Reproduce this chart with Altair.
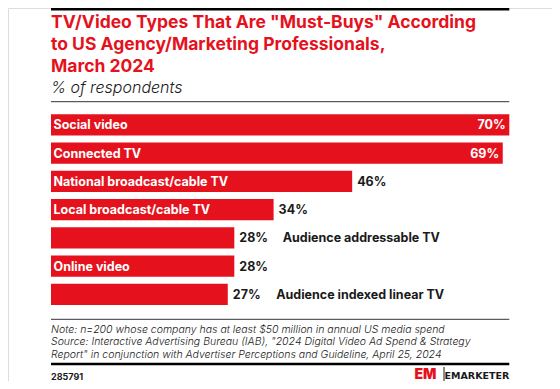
import altair as alt
import pandas as pd

# ---- data ----
categories = [
    "Social video",
    "Connected TV",
    "National broadcast/cable TV",
    "Local broadcast/cable TV",
    "Audience addressable TV",
    "Online video",
    "Audience indexed linear TV",
]
values = [70, 69, 46, 34, 28, 28, 27]
name_in_bar = [True, True, True, True, False, True, False]

title_lines = [
    'TV/Video Types That Are "Must-Buys" According',
    "to US Agency/Marketing Professionals,",
    "March 2024",
]
subtitle = "% of respondents"
note_lines = [
    "Note: n=200 whose company has at least $50 million in annual US media spend",
    'Source: Interactive Advertising Bureau (IAB), "2024 Digital Video Ad Spend & Strategy',
    'Report" in conjunction with Advertiser Perceptions and Guideline, April 25, 2024',
]
chart_id = "285791"
logo_mark = "EM"
brand = "EMARKETER"

# ---- styling ----
RED = "#e5121d"
INK = "#1a1a1a"
FONT = "Inter"
W, H = 544, 373
LEFT, RIGHT = 43, 501.3

df = pd.DataFrame({"category": categories, "value": values, "inside": name_in_bar})

xs = alt.Scale(domain=[0, 70], range=[LEFT, RIGHT], zero=True, nice=False)
ys = alt.Scale(domain=categories, range=[106.3, 297], paddingInner=0.2455, paddingOuter=0)

X = alt.X("value:Q", scale=xs, axis=None)
Y = alt.Y("category:N", sort=categories, scale=ys, axis=None)

base = alt.Chart(df)

bars = base.mark_bar(color=RED, cornerRadius=0).encode(x=X, y=Y)

names_in = base.transform_filter("datum.inside").transform_calculate(zero="0").mark_text(
    align="left", baseline="middle", dx=2.5, dy=0.5, color="white",
    font=FONT, fontSize=12.5, fontWeight="bold"
).encode(x=alt.X("zero:Q", scale=xs, axis=None), y=Y, text="category:N")

names_out = base.transform_filter("!datum.inside").mark_text(
    align="left", baseline="middle", dx=48.4, dy=0.5, color=INK,
    font=FONT, fontSize=12.5, fontWeight="bold"
).encode(x=X, y=Y, text="category:N")

vals_in = base.transform_filter("datum.value >= 60").transform_calculate(
    lab="datum.value + '%'"
).mark_text(
    align="right", baseline="middle", dx=-3.6, dy=0.5, color="white",
    font=FONT, fontSize=12.5, fontWeight="bold"
).encode(x=X, y=Y, text="lab:N")

vals_out = base.transform_filter("datum.value < 60").transform_calculate(
    lab="datum.value + '%'"
).mark_text(
    align="left", baseline="middle", dx=5, dy=0.5, color=INK,
    font=FONT, fontSize=12.5, fontWeight="bold"
).encode(x=X, y=Y, text="lab:N")


def one_text(txt, x, y, **kw):
    return alt.Chart(pd.DataFrame({"t": [txt]})).mark_text(**kw).encode(
        x=alt.value(x), y=alt.value(y), text="t:N"
    )


def hrule(y, width, color):
    return alt.Chart(pd.DataFrame({"a": [0]})).mark_rule(
        color=color, strokeWidth=width
    ).encode(x=alt.value(LEFT), x2=alt.value(RIGHT), y=alt.value(y))


title = one_text("\n".join(title_lines), LEFT, 20, align="left", baseline="alphabetic",
                 lineBreak="\n", lineHeight=22, font=FONT, fontSize=17.5,
                 fontWeight="bold", color=RED)
sub = one_text(subtitle, LEFT, 85.3, align="left", baseline="alphabetic", font=FONT,
               fontSize=16, fontStyle="italic", fontWeight=300, color=INK)
note = one_text("\n".join(note_lines), LEFT, 324.7, align="left", baseline="alphabetic",
                lineBreak="\n", lineHeight=12.5, font=FONT, fontSize=10.5,
                fontStyle="italic", fontWeight=300, color=INK)
cid = one_text(chart_id, LEFT, 371.5, align="left", baseline="alphabetic", font=FONT,
               fontSize=9, fontWeight="bold", color=INK)
em = one_text(logo_mark, 406.5, 370.5, align="left", baseline="alphabetic", font=FONT,
              fontSize=14, fontWeight=900, color=RED)
br = one_text(brand, RIGHT, 370.5, align="right", baseline="alphabetic",
              font="DejaVu Sans", fontSize=9.5, fontWeight="bold", color=INK)
divider = alt.Chart(pd.DataFrame({"a": [0]})).mark_rule(color=INK, strokeWidth=1).encode(
    x=alt.value(436), y=alt.value(359), y2=alt.value(373)
)

chart = alt.layer(
    hrule(1, 3, "#000000"),
    title, sub,
    hrule(93.7, 1, "#333333"),
    bars, names_in, names_out, vals_in, vals_out,
    hrule(311.3, 1, "#333333"),
    note,
    hrule(356, 2.7, "#000000"),
    cid, em, divider, br,
).properties(
    width=W, height=H, autosize=alt.AutoSizeParams(type="none"), padding=0
).configure_view(stroke=None).configure(background="white")

chart.save("out.html", embed_options={"renderer": "svg", "actions": False})
